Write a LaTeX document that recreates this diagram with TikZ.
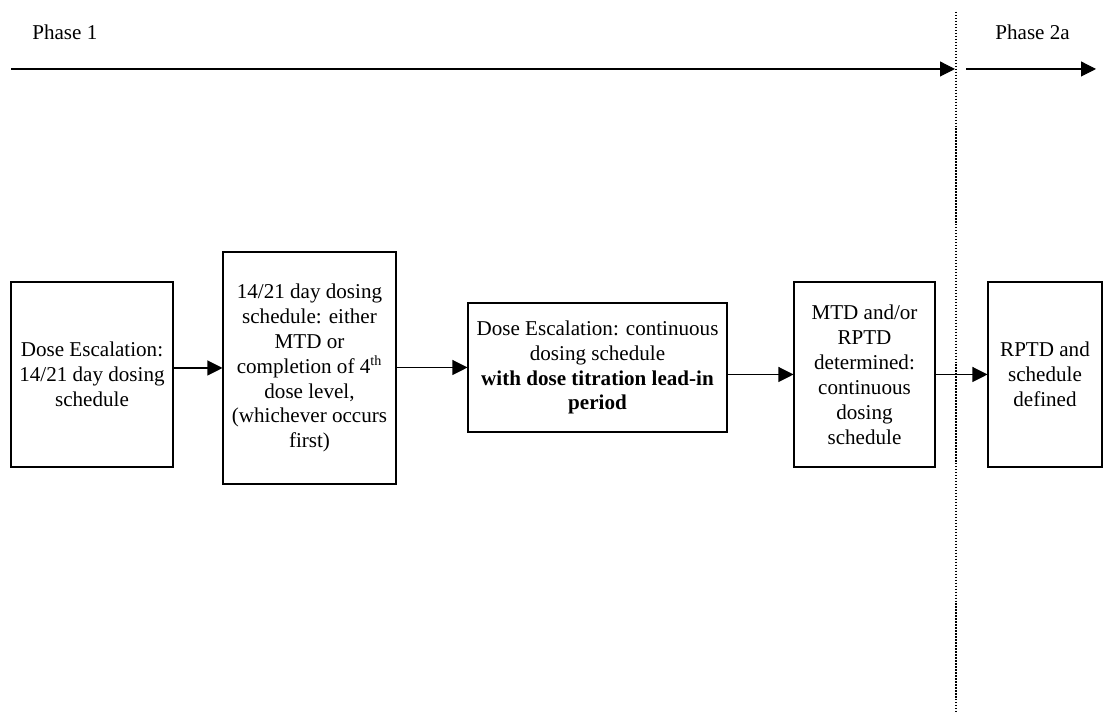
\documentclass[tikz,border=0pt]{standalone}
\usepackage{fontspec}
\setmainfont{Liberation Serif}
\usepackage{xcolor}
\usepackage{tikz}
\usetikzlibrary{arrows.meta}
\usetikzlibrary{positioning}
\tikzset{
    mybox/.style = {rectangle, draw=black, align=center, inner sep=0pt, line width=0.6pt},
}
\begin{document}
\begin{tikzpicture}[
	font=\fontsize{12}{14.2}\selectfont
]
\tikzset{
    edgea/.style = {-{Triangle[length=0.3cm,width=0.3cm]}, line width=0.6pt},
    edged/.style = {-, line width=0.7pt, dash pattern=on 0.8pt off 0.9pt},
}
\useasboundingbox (0,0) rectangle (22.06,14.3);
\node[anchor=base west, inner sep=0pt] at (0.64,13.5) (p1) {Phase 1};
\node[anchor=base west, inner sep=0pt] at (19.9,13.5) (p2) {Phase 2a};
\coordinate (p1s) at (0.22,12.92);
\coordinate (p1e) at (19.10,12.92);
\coordinate (p2s) at (19.32,12.92);
\coordinate (p2e) at (21.92,12.92);
\coordinate (dt) at (19.12,14.06);
\coordinate (db) at (19.12,0.04);
%
\node[mybox, minimum width=3.24cm, minimum height=3.70cm] at (1.84,6.81) (a)
    {Dose Escalation:\\14/21 day dosing\\schedule};
\node[mybox, minimum width=3.46cm, minimum height=4.64cm] at (6.19,6.94) (b)
    {14/21 day dosing\\schedule: either\\MTD or\\completion of 4\textsuperscript{th}\\dose level,\\(whichever occurs\\first)};
\node[mybox, minimum width=5.18cm, minimum height=2.58cm] at (11.95,6.95) (c)
    {Dose Escalation: continuous\\dosing schedule\\\textbf{with dose titration lead-in}\\\textbf{period}};
\node[mybox, minimum width=2.82cm, minimum height=3.70cm] at (17.29,6.81) (d)
    {MTD and/or\\RPTD\\determined:\\continuous\\dosing\\schedule};
\node[mybox, minimum width=2.28cm, minimum height=3.70cm] at (20.90,6.81) (e)
    {RPTD and\\schedule\\defined};
%
\draw[edgea] (p1s) -- (p1e);
\draw[edgea] (p2s) -- (p2e);
\draw[edged] (dt) -- (db);
%
\draw[edgea] (a.east |- b.west) -- (b.west);
\draw[edgea] (b.east |- c.west) -- (c.west);
\draw[edgea] (c.east |- d.west) -- (d.west);
\draw[edgea] (d.east) -- (e.west);
\end{tikzpicture}
\end{document}
